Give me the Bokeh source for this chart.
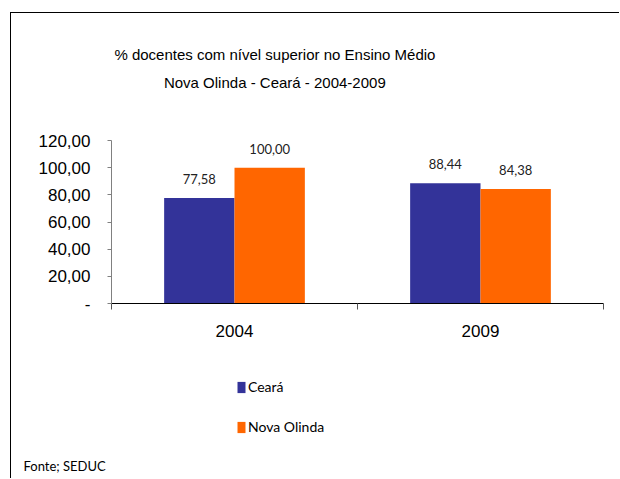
from bokeh.plotting import figure
from bokeh.layouts import column
from bokeh.models import (Range1d, FixedTicker, ColumnDataSource, Legend, LegendItem,
                          LabelSet, Label, Title)
from bokeh.core.properties import value
from bokeh.embed import file_html
from bokeh.resources import INLINE

categories = ["2004", "2009"]
ceara = [77.58, 88.44]
nova_olinda = [100.00, 84.38]
y_ticks = [0, 20, 40, 60, 80, 100, 120]
y_tick_labels = ["-", "20,00", "40,00", "60,00", "80,00", "100,00", "120,00"]
title_lines = ["% docentes com nível  superior no Ensino Médio",
               "Nova Olinda  -  Ceará - 2004-2009"]
source_note = "Fonte; SEDUC"

def fmt(v):
    return f"{v:.2f}".replace(".", ",")

W = 608

def blank(h, **kw):
    f = figure(width=W, height=h, output_backend="svg", toolbar_location=None,
               x_range=Range1d(0, 1), y_range=Range1d(0, 1),
               x_axis_location=None, y_axis_location=None, title=None, **kw)
    f.outline_line_color = None
    f.grid.visible = False
    f.background_fill_color = "white"
    f.border_fill_color = "white"
    return f

# ---- chart data sources
idx = list(range(len(categories)))
bw = 0.286
src_c = ColumnDataSource(dict(x=[i + 0.5 - bw / 2 for i in idx], top=ceara,
                              lab=[fmt(v) for v in ceara]))
src_n = ColumnDataSource(dict(x=[i + 0.5 + bw / 2 for i in idx], top=nova_olinda,
                              lab=[fmt(v) for v in nova_olinda]))

# ---- title block
top = blank(120, min_border=0)
for txt, sy, sx in ((title_lines[0], 79, 165.5), (title_lines[1], 51, 167.5)):
    top.add_layout(Label(x=sx, y=sy, x_units="screen", y_units="screen", text=txt,
                         text_align="center", text_baseline="middle",
                         text_font="Liberation Sans", text_font_size="15px", text_color="black"))

# ---- chart
p = figure(width=W, height=217, output_backend="svg", toolbar_location=None,
           x_range=Range1d(0, len(categories)), y_range=Range1d(0, 120),
           min_border_left=100, min_border_right=16, min_border_top=7, min_border_bottom=47,
           title=None)
p.outline_line_color = None
p.grid.visible = False
p.background_fill_color = "white"
p.border_fill_color = "white"

rc = p.vbar(x="x", top="top", width=bw, source=src_c, fill_color="#333399", line_color=None)
rn = p.vbar(x="x", top="top", width=bw, source=src_n, fill_color="#FF6600", line_color=None)

for s in (src_c, src_n):
    p.add_layout(LabelSet(x="x", y="top", text="lab", source=s, y_offset=19,
                          text_align="center", text_baseline="middle",
                          text_font=value("Lato"), text_font_size="13px", text_color="#222222"))

ya = p.yaxis[0]
ya.ticker = FixedTicker(ticks=y_ticks)
ya.major_label_overrides = {t: l for t, l in zip(y_ticks, y_tick_labels)}
ya.axis_line_color = "#808080"
ya.major_tick_line_color = "#808080"
ya.major_tick_out = 4
ya.major_tick_in = 0
ya.minor_tick_line_color = None
ya.major_label_text_font = "Liberation Sans"
ya.major_label_text_font_size = "17px"
ya.major_label_text_color = "black"
ya.major_label_standoff = 17

xa = p.xaxis[0]
xa.ticker = FixedTicker(ticks=[i + 0.5 for i in idx], minor_ticks=list(range(len(categories) + 1)))
xa.major_label_overrides = {i + 0.5: c for i, c in zip(idx, categories)}
xa.axis_line_color = "black"
xa.major_tick_line_color = None
xa.minor_tick_line_color = "#555555"
xa.minor_tick_out = 6
xa.minor_tick_in = 0
xa.major_label_text_font = "Liberation Sans"
xa.major_label_text_font_size = "17px"
xa.major_label_text_color = "black"
xa.major_label_standoff = 15

# ---- legend and source block
bot = blank(128, min_border_left=0, min_border_right=0, min_border_top=0, min_border_bottom=24)
lr_c = bot.vbar(x="x", top="top", width=bw, source=src_c, fill_color="#333399",
                line_color=None, visible=False)
lr_n = bot.vbar(x="x", top="top", width=bw, source=src_n, fill_color="#FF6600",
                line_color=None, visible=False)
legend = Legend(items=[LegendItem(label="Ceará", renderers=[lr_c]),
                       LegendItem(label="Nova Olinda", renderers=[lr_n])],
                location=(125, 19), orientation="vertical", click_policy="none",
                glyph_width=10, glyph_height=14, label_standoff=2, spacing=23,
                padding=0, margin=0, border_line_color=None, background_fill_alpha=0,
                label_text_font="Lato", label_text_font_size="14px", label_text_color="black")
bot.add_layout(legend)
bot.add_layout(Title(text=source_note, align="left", offset=-88, standoff=3,
                     text_font="Lato", text_font_size="13px", text_font_style="normal",
                     text_color="black"), "below")

layout = column(top, p, bot, spacing=0,
                styles={"margin-left": "10px", "margin-top": "12px",
                        "border-left": "1.5px solid black", "border-top": "1.5px solid black"})

open("out.html", "w").write(file_html(layout, INLINE))
